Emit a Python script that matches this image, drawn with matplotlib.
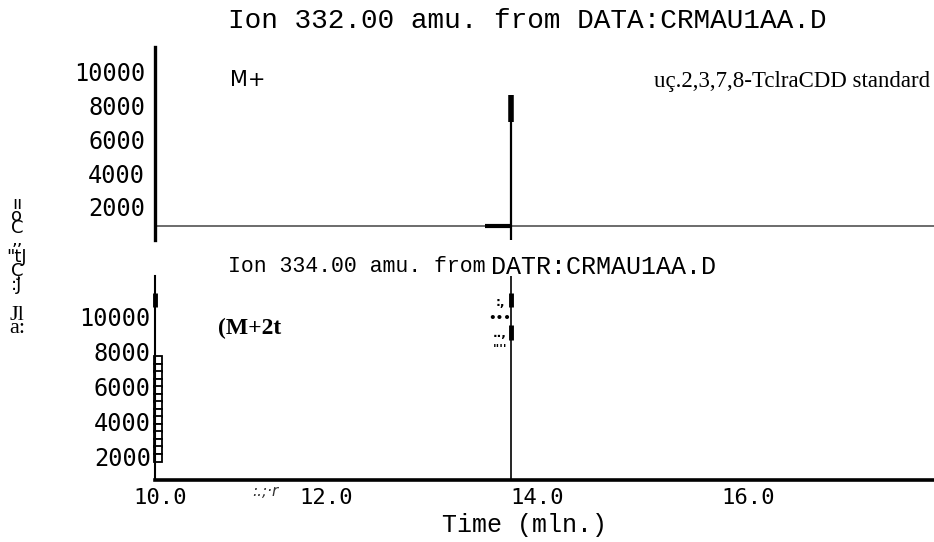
import matplotlib.pyplot as plt

# chromatogram values
tick_times = [10.43, 12.0, 14.0, 16.0]          # where the labels sit on the scan
tick_labels = ['10.0', '12.0', '14.0', '16.0']
y_ticks = [2000, 4000, 6000, 8000, 10000]
y_labels = ['2000', '4000', '6000', '8000', '10000']

t_start, t_end = 10.38, 17.76
peak_t = 13.75
shoulder_t = 13.51

# ion 332 trace
top_base = 874
top_peak = 8637
top_peak_dark = 7037

# ion 334 trace
bot_marks_peak = [(10514, 11314), (8629, 9486)]
bot_marks_left = [(10514, 11314)]
ladder_t = 10.41
ladder_y = [7480, 7050, 6620, 6190, 5760, 5330, 4900, 4470,
            4040, 3610, 3180, 2750, 2320, 1890]

# scanned y label, broken into pieces by the OCR
ylab_groups = ['ıı\no\nC\n,,', '"tJ\nÇ\n:J', 'Jl\na:']
specks = ":,\n•••\n..,\n''''"

W, H = 934, 542
fig = plt.figure(figsize=(W / 100, H / 100), dpi=100)


def fx(x):
    return x / W


def fy(y):
    return 1 - y / H


ax1 = fig.add_axes([fx(155), fy(240), 779 / W, 193 / H])
ax2 = fig.add_axes([fx(155), fy(480), 779 / W, 204 / H])

for ax in (ax1, ax2):
    ax.set_xlim(t_start, t_end)
    for s in ('top', 'right'):
        ax.spines[s].set_visible(False)
    ax.set_yticks(y_ticks, y_labels)
    ax.tick_params(length=0)
    ax.tick_params(axis='y', labelsize=17)
    ax.tick_params(axis='x', labelsize=16)

# top panel
ax1.set_ylim(44, 11481)
ax1.spines['bottom'].set_visible(False)
ax1.spines['left'].set_linewidth(2.4)
ax1.set_xticks([])
ax1.tick_params(axis='y', pad=7)
ax1.axhline(top_base, color='#444444', lw=1.1)
ax1.vlines(peak_t, 44, top_peak, color='black', lw=1.6)
ax1.vlines(peak_t, top_peak_dark, top_peak, color='black', lw=4)
ax1.hlines(top_base, shoulder_t, peak_t, color='black', lw=3)

# bottom panel
ax2.set_ylim(629, 12286)
ax2.spines['left'].set_linewidth(1.5)
ax2.spines['bottom'].set_linewidth(2.6)
ax2.set_xticks(tick_times, tick_labels)
ax2.tick_params(axis='y', pad=3)
ax2.tick_params(axis='x', pad=6)
ax2.axvline(peak_t, color='black', lw=1.2)
for lo, hi in bot_marks_peak:
    ax2.vlines(peak_t, lo, hi, color='black', lw=3.5)
for lo, hi in bot_marks_left:
    ax2.vlines(t_start, lo, hi, color='black', lw=3.5, clip_on=False)
ax2.plot([ladder_t] * len(ladder_y), ladder_y, 's', mfc='white',
         mec='black', ms=6, mew=1.3, clip_on=False)

for ax in (ax1, ax2):
    for lab in ax.get_yticklabels() + ax.get_xticklabels():
        lab.set_family('DejaVu Sans Mono')

# titles and labels
fig.text(fx(228), fy(21), 'Ion 332.00 amu. from DATA:CRMAU1AA.D',
         family='Liberation Mono', size=20, va='center')
fig.text(fx(228), fy(267), 'Ion 334.00 amu. from',
         family='Liberation Mono', size=15.5, va='center')
fig.text(fx(491), fy(267), 'DATR:CRMAU1AA.D',
         family='Liberation Mono', size=18, va='center')
fig.text(fx(524), fy(525), 'Time (mln.)', family='Liberation Mono',
         size=18, ha='center', va='center')

fig.text(fx(230), fy(80), 'M+', family='DejaVu Sans', size=15, va='center')
fig.text(fx(218), fy(328), '(M+2t', family='Liberation Serif',
         weight='bold', size=17, va='center')
fig.text(fx(930), fy(81), 'uç.2,3,7,8-TclraCDD standard',
         family='Liberation Serif', size=16.5, ha='right', va='center')
fig.text(fx(252), fy(492), ':.;·r', family='DejaVu Sans', style='italic',
         size=11, va='center', color='#333333')

# OCR specks beside the 334 peak
fig.text(fx(500), fy(326), specks, family='DejaVu Sans', weight='bold',
         size=8.5, ha='center', va='center', linespacing=1.25)

# stacked y label pieces
group_y = [222, 271, 322]
group_font = ['DejaVu Sans', 'DejaVu Sans', 'Liberation Serif']
group_size = [13, 13, 16]
group_spacing = [0.55, 0.68, 0.62]
for s, y, f, sz, ls in zip(ylab_groups, group_y, group_font, group_size,
                           group_spacing):
    fig.text(fx(17), fy(y), s, family=f, size=sz,
             ha='center', va='center', linespacing=ls)

fig.savefig('out.png', dpi=100)
